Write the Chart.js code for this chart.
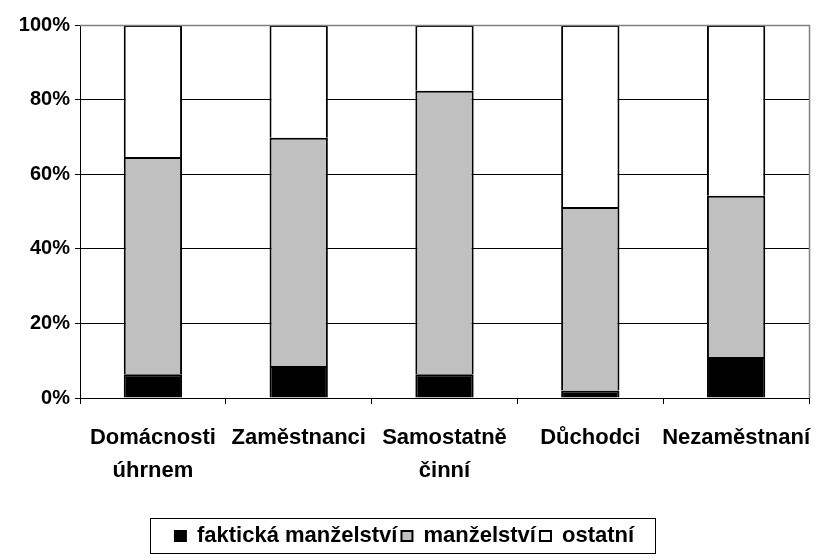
<!DOCTYPE html>
<html>
<head>
  <meta charset="UTF-8" />
  <title>Domácnosti podle typu</title>
  <script src="https://cdn.jsdelivr.net/npm/chart.js@4.4.0/dist/chart.umd.min.js"></script>
  <style>
    html,body{margin:0;padding:0;background:#fff}
    #wrap{width:840px;height:560px}
  </style>
</head>
<body>
  <div id="wrap"><canvas id="chart"></canvas></div>
  <script>
    // categories (two-line labels as in the original)
    const categories=[['Domácnosti','úhrnem'],'Zaměstnanci',['Samostatně','činní'],'Důchodci','Nezaměstnaní'];
    // shares in %
    const fakticka=[6.4,8.6,6.4,2.0,11.0];
    const manzelstvi=[58.2,61.2,76.0,49.2,43.2];
    const ostatni=[35.4,30.2,17.6,48.8,45.8];
    const yTicks=[0,20,40,60,80,100];

    const font="'Liberation Sans', Arial, sans-serif";

    // plot frame on the right and legend box
    const framePlugin={
      id:'frame',
      afterDraw(chart){
        const ctx=chart.ctx, a=chart.chartArea;
        ctx.save();
        ctx.strokeStyle='#808080';
        ctx.lineWidth=1.5;
        ctx.beginPath();
        ctx.moveTo(a.left,a.top+0.5);
        ctx.lineTo(a.right+0.5,a.top+0.5);
        ctx.lineTo(a.right+0.5,a.bottom);
        ctx.stroke();
        ctx.strokeStyle='#000';
        ctx.lineWidth=1;
        ctx.strokeRect(150.5,518.5,505,35);
        ctx.restore();
      }
    };

    new Chart(document.getElementById('chart'),{
      type:'bar',
      data:{
        labels:categories,
        datasets:[
          {label:'faktická manželství',data:fakticka,backgroundColor:'#000',borderColor:'#000',borderWidth:2,barPercentage:0.4,categoryPercentage:1},
          {label:'manželství',data:manzelstvi,backgroundColor:'#c0c0c0',borderColor:'#000',borderWidth:2,barPercentage:0.4,categoryPercentage:1},
          {label:'ostatní',data:ostatni,backgroundColor:'#fff',borderColor:'#000',borderWidth:2,barPercentage:0.4,categoryPercentage:1}
        ]
      },
      options:{
        responsive:true,
        maintainAspectRatio:false,
        animation:false,
        layout:{padding:{top:25,right:31,left:0,bottom:3}},
        plugins:{
          tooltip:{enabled:false},
          legend:{
            position:'bottom',
            labels:{
              color:'#000',
              font:{family:font,size:22,weight:'bold'},
              boxWidth:11,boxHeight:10,padding:4
            }
          }
        },
        scales:{
          x:{
            stacked:true,
            grid:{display:true,offset:true,drawOnChartArea:false,color:'#000',tickLength:6,tickColor:'#000'},
            border:{color:'#000',width:1},
            ticks:{color:'#000',maxRotation:0,autoSkip:false,padding:17,font:{family:font,size:22,weight:'bold',lineHeight:1.5}},
            afterFit(s){s.height=123;}
          },
          y:{
            stacked:true,
            min:0,max:100,
            afterBuildTicks(s){s.ticks=yTicks.map(v=>({value:v}));},
            grid:{color:'#000',lineWidth:1,tickLength:5,tickColor:'#000'},
            border:{color:'#000',width:1},
            ticks:{color:'#000',padding:5,font:{family:font,size:20,weight:'bold'},callback:v=>v+'%'},
            afterFit(s){s.width=80;}
          }
        }
      },
      plugins:[framePlugin]
    });
  </script>
</body>
</html>
